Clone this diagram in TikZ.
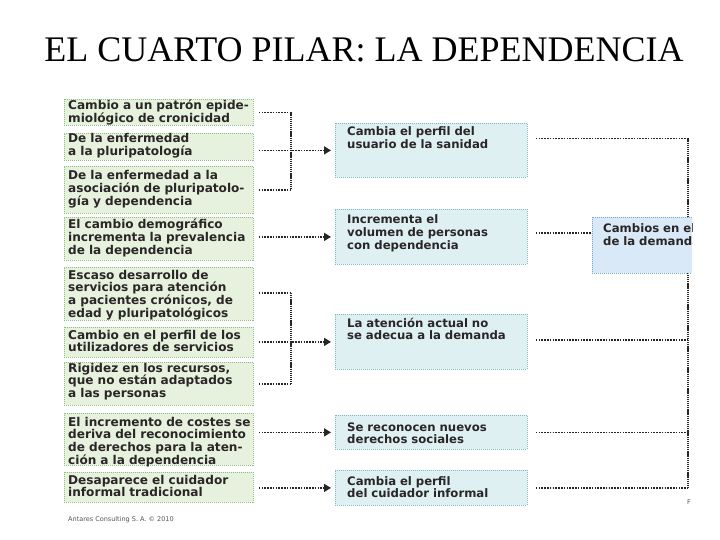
\documentclass[tikz,border=0pt]{standalone}
\usepackage{fontspec}
\setmainfont{Liberation Serif}
\newfontfamily\boxfont{DejaVu Sans}
\usetikzlibrary{arrows.meta,calc}
\definecolor{lfill}{HTML}{E6F2DE}
\definecolor{lborder}{HTML}{8FC07E}
\definecolor{mfill}{HTML}{DFF0F3}
\definecolor{mborder}{HTML}{80BAC4}
\definecolor{rfill}{HTML}{D9E9F7}
\definecolor{rborder}{HTML}{7AAAC4}
\definecolor{txtc}{HTML}{2A2627}
\definecolor{capc}{HTML}{555555}
\begin{document}
\begin{tikzpicture}[x=1pt,y=-1pt,
  boxbase/.style={anchor=north west, inner sep=0pt, line width=0.8pt, dash pattern=on 1pt off 1pt},
  lbox/.style={boxbase, draw=lborder, fill=lfill, minimum width=189pt},
  mbox/.style={boxbase, draw=mborder, fill=mfill, minimum width=192pt},
  rbox/.style={boxbase, draw=rborder, fill=rfill, minimum width=130pt},
  txt/.style={font=\boxfont\bfseries\fontsize{11.7}{12.8}\selectfont, text=txtc, inner sep=0pt, anchor=base west, align=left, text width=230pt},
  ltxt/.style={txt, font=\boxfont\bfseries\fontsize{12.1}{12.8}\selectfont},
  capt/.style={font=\boxfont\fontsize{6.5}{8}\selectfont, text=capc, inner sep=0pt, anchor=base west},
  conn/.style={draw=black!85, line width=1.6pt, dash pattern=on 1.6pt off 1.2pt},
  vconn/.style={draw=black!85, line width=2.4pt, dash pattern=on 1.3pt off 0.8pt},
  arr/.style={conn, -{Triangle[length=7pt,width=8pt]}}
]
\useasboundingbox (0,0) rectangle (720,540);

\node[font=\fontsize{36}{40}\selectfont, anchor=base, inner sep=0pt] (title) at (364,62) {EL CUARTO PILAR: LA DEPENDENCIA};

% left boxes
\node[lbox, minimum height=26pt] (L1) at (64,99) {};
\node[lbox, minimum height=27pt] (L2) at (64,133) {};
\node[lbox, minimum height=47pt] (L3) at (64,166) {};
\node[lbox, minimum height=43pt] (L4) at (64,217) {};
\node[lbox, minimum height=53pt] (L5) at (64,267) {};
\node[lbox, minimum height=30pt] (L6) at (64,327) {};
\node[lbox, minimum height=43pt] (L7) at (64,362) {};
\node[lbox, minimum height=52pt] (L8) at (64,413) {};
\node[lbox, minimum height=30pt] (L9) at (64,472) {};

\node[ltxt] (L1t) at ($(L1.north west)+(4,11)$) {Cambio a un patrón epide-\\miológico de cronicidad};
\node[ltxt] (L2t) at ($(L2.north west)+(4,10)$) {De la enfermedad\\a la pluripatología};
\node[ltxt] (L3t) at ($(L3.north west)+(4,14)$) {De la enfermedad a la\\asociación de pluripatolo-\\gía y dependencia};
\node[ltxt] (L4t) at ($(L4.north west)+(4,12)$) {El cambio demográfico\\incrementa la prevalencia\\de la dependencia};
\node[ltxt] (L5t) at ($(L5.north west)+(4,12)$) {Escaso desarrollo de\\servicios para atención\\a pacientes crónicos, de\\edad y pluripatológicos};
\node[ltxt] (L6t) at ($(L6.north west)+(4,12)$) {Cambio en el perfil de los\\utilizadores de servicios};
\node[ltxt] (L7t) at ($(L7.north west)+(4,10)$) {Rigidez en los recursos,\\que no están adaptados\\a las personas};
\node[ltxt] (L8t) at ($(L8.north west)+(4,13)$) {El incremento de costes se\\deriva del reconocimiento\\de derechos para la aten-\\ción a la dependencia};
\node[ltxt] (L9t) at ($(L9.north west)+(4,12)$) {Desaparece el cuidador\\informal tradicional};

% middle boxes
\node[mbox, minimum height=54pt] (M1) at (335,123) {};
\node[mbox, minimum height=55pt] (M2) at (335,209) {};
\node[mbox, minimum height=55pt] (M3) at (335,314) {};
\node[mbox, minimum height=34pt] (M4) at (335,415) {};
\node[mbox, minimum height=35pt] (M5) at (335,470) {};

\node[txt] (M1t) at ($(M1.north west)+(12,13)$) {Cambia el perfil del\\usuario de la sanidad};
\node[txt] (M2t) at ($(M2.north west)+(12,15)$) {Incrementa el\\volumen de personas\\con dependencia};
\node[txt] (M3t) at ($(M3.north west)+(12,13)$) {La atención actual no\\se adecua a la demanda};
\node[txt] (M4t) at ($(M4.north west)+(12,16)$) {Se reconocen nuevos\\derechos sociales};
\node[txt] (M5t) at ($(M5.north west)+(12,15)$) {Cambia el perfil\\del cuidador informal};

% left connectors, group 1
\coordinate (J1) at ($(L1.east)+(37,0)$);
\draw[conn] ($(L1.east)+(5,0)$) -- (J1);
\draw[conn] ($(L3.east)+(5,0)$) -- (J1 |- L3.east);
\draw[vconn] (J1) -- (J1 |- L3.east);
\draw[arr] ($(L2.east |- M1.west)+(5,0)$) -- ($(M1.west)+(-4,0)$);
% box 4
\draw[arr] ($(L4.east |- M2.west)+(5,0)$) -- ($(M2.west)+(-4,0)$);
% group 2
\coordinate (J2) at ($(L5.east)+(37,-1)$);
\draw[conn] ($(L5.east)+(5,-1)$) -- (J2);
\draw[conn] ($(L7.east)+(5,0)$) -- (J2 |- L7.east);
\draw[vconn] (J2) -- (J2 |- L7.east);
\draw[arr] ($(L6.east |- M3.west)+(5,0)$) -- ($(M3.west)+(-4,0)$);
% boxes 8, 9
\draw[arr] ($(L8.east |- M4.west)+(5,0)$) -- ($(M4.west)+(-4,0)$);
\draw[arr] ($(L9.east |- M5.west)+(5,0)$) -- ($(M5.west)+(-4,0)$);

% right connectors
\coordinate (V1) at ($(M1.east)+(160,-12)$);
\coordinate (V5) at (V1 |- M5.east);
\draw[conn] ($(M1.east)+(8,-12)$) -- (V1);
\draw[conn] ($(M3.east)+(8,-2)$) -- ($(V1 |- M3.east)+(0,-2)$);
\draw[conn] ($(M4.east)+(8,0)$) -- (V1 |- M4.east);
\draw[conn] ($(M5.east)+(8,0)$) -- (V5);
\draw[vconn] (V1) -- (V5);

\begin{scope}
  \clip (0,0) rectangle (692,540);
  \node[rbox, minimum height=56pt] (R) at (592,217) {};
  \node[txt] (Rt) at ($(R.north west)+(11,16)$) {Cambios en el perfil\\de la demanda};
\end{scope}
\draw[conn] ($(M2.east)+(8,-4)$) -- ($(R.west |- M2.east)+(-1,-4)$);

\node[capt] (cap) at (68,521) {Antares Consulting S. A. © 2010};
\node[capt] (F) at (687,504) {F};
\end{tikzpicture}
\end{document}
